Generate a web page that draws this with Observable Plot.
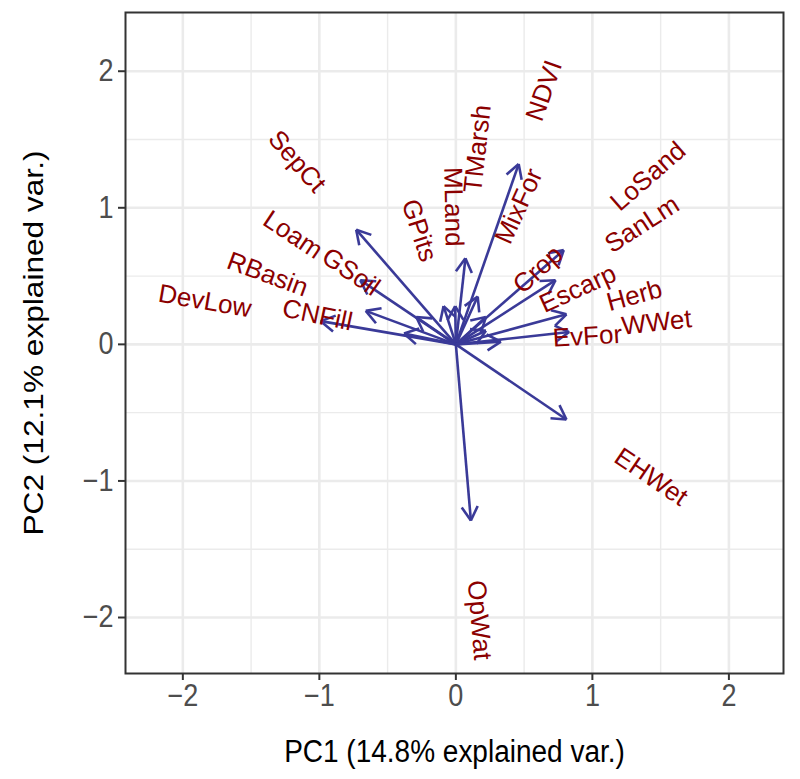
<!DOCTYPE html>
<html><head><meta charset="utf-8">
<script src="https://cdn.jsdelivr.net/npm/d3@7"></script>
<script src="https://cdn.jsdelivr.net/npm/@observablehq/plot@0.6"></script>
<style>body{margin:0;background:#fff}</style>
</head><body><div id="chart"></div>
<script>
// Variable loadings (arrow tips)
const variables = ["SepCt","Loam","GSoil","RBasin","DevLow","CNFill","GPits","MLand","TMarsh","NDVI",
                   "MixFor","LoSand","SanLm","Crop","Escarp","Herb","WWet","EvFor","EHWet","OpWat"];
const pc1 = [-0.73,-0.70,-0.29,-0.66,-0.99,-0.38,-0.09,-0.005,0.07,0.46,
              0.16,0.79,0.73,0.22,0.22,0.81,0.83,0.33,0.81,0.11];
const pc2 = [0.84,0.47,0.20,0.245,0.17,0.08,0.28,0.28,0.63,1.32,
             0.35,0.69,0.47,0.20,0.10,0.22,0.09,0.02,-0.55,-1.29];
const majorTicks = [-2,-1,0,1,2];
const minorTicks = [-1.5,-0.5,0.5,1.5];
const tickLabels = ["\u22122","\u22121","0","1","2"];
const xLabel = "PC1 (14.8% explained var.)";
const yLabel = "PC2 (12.1% explained var.)";

const W = 800, H = 779, mL = 125, mR = 17, mT = 12, mB = 106;
const xDomain = [-2.42, 2.40], yDomain = [-2.41, 2.43];
const kx = (W - mL - mR) / (xDomain[1] - xDomain[0]);
const ky = (H - mT - mB) / (yDomain[1] - yDomain[0]);
const labelSize = 26, headLen = 16, varAdjust = 2.5, tickLen = 7;
const textStretch = 1.13; // axis text in the reference is drawn taller than wide
const font = '"Liberation Sans", Arial, Helvetica, sans-serif';

const ctx = document.createElement("canvas").getContext("2d");
ctx.font = `${labelSize}px ${font}`;

const data = variables.map((name, i) => {
  const x = pc1[i], y = pc2[i];
  const px = x * kx, py = y * ky, r = Math.hypot(px, py);
  const w = ctx.measureText(name).width;
  // ggbiplot: label anchored at tip with hjust = (1 - adjust*sign(x))/2 -> centre along ray
  const s = (r + (varAdjust / 2) * w) / r;
  return {name, x, y, lx: x * s, ly: y * s, angle: -Math.atan(y / x) * 180 / Math.PI, ux: px / r, uy: py / r};
});
// arrowhead wings (open, 30 degrees) expressed in data units
const wings = [];
for (const d of data) {
  for (const a of [Math.PI / 6, -Math.PI / 6]) {
    const c = Math.cos(a), s = Math.sin(a);
    const bx = -(d.ux * c - d.uy * s), by = -(d.ux * s + d.uy * c);
    wings.push({x1: d.x, y1: d.y, x2: d.x + bx * headLen / kx, y2: d.y + by * headLen / ky});
  }
}
const ticks = majorTicks.map((v, i) => ({v, label: tickLabels[i]}));

const plot = Plot.plot({
  width: W, height: H, marginLeft: mL, marginRight: mR, marginTop: mT, marginBottom: mB,
  x: {domain: xDomain, axis: null}, y: {domain: yDomain, axis: null},
  style: {fontFamily: font, background: "#fff", overflow: "visible"},
  marks: [
    Plot.ruleX(minorTicks, {stroke: "#EBEBEB", strokeWidth: 1.4}),
    Plot.ruleY(minorTicks, {stroke: "#EBEBEB", strokeWidth: 1.4}),
    Plot.ruleX(majorTicks, {stroke: "#EBEBEB", strokeWidth: 2.6}),
    Plot.ruleY(majorTicks, {stroke: "#EBEBEB", strokeWidth: 2.6}),
    Plot.link(data, {x1: 0, y1: 0, x2: "x", y2: "y", stroke: "#3A3A98", strokeWidth: 2.6, strokeLinecap: "butt"}),
    Plot.link(wings, {x1: "x1", y1: "y1", x2: "x2", y2: "y2", stroke: "#3A3A98", strokeWidth: 2.6, strokeLinecap: "butt"}),
    Plot.text(data, {x: "lx", y: "ly", text: "name", rotate: "angle", fill: "#8B0000", fontSize: labelSize, textAnchor: "middle", lineAnchor: "middle"}),
    Plot.frame({stroke: "#333333", strokeWidth: 2}),
    // axis ticks
    Plot.ruleX(majorTicks, {y1: yDomain[0], y2: yDomain[0] - tickLen / ky, stroke: "#333333", strokeWidth: 2}),
    Plot.ruleY(majorTicks, {x1: xDomain[0], x2: xDomain[0] - tickLen / kx, stroke: "#333333", strokeWidth: 2}),
    // tick labels
    Plot.text(ticks, {x: "v", y: yDomain[0], text: "label", dy: tickLen + 4, lineAnchor: "top", textAnchor: "middle", fontSize: 27, fill: "#4D4D4D", className: "stretch"}),
    Plot.text(ticks, {y: "v", x: xDomain[0], text: "label", dx: -(tickLen + 5), lineAnchor: "middle", textAnchor: "end", fontSize: 27, fill: "#4D4D4D", className: "stretch"}),
    // axis titles
    Plot.text([xLabel], {frameAnchor: "bottom", dy: 78, fontSize: 28, fill: "#000", textAnchor: "middle", lineAnchor: "middle", className: "stretch"}),
    Plot.text([yLabel], {frameAnchor: "left", rotate: -90, dx: -91, fontSize: 28, fill: "#000", textAnchor: "middle", lineAnchor: "middle", className: "stretch"})
  ]
});
document.getElementById("chart").appendChild(plot);

// stretch axis text vertically about its anchor point
plot.querySelectorAll(".stretch text").forEach(el => {
  const t = el.transform.baseVal.consolidate();
  if (t) {
    const m = t.matrix;
    el.setAttribute("transform", `matrix(${m.a},${m.b * textStretch},${m.c},${m.d * textStretch},${m.e},${m.f})`);
  } else {
    const y = +(el.getAttribute("y") || 0);
    el.setAttribute("transform", `translate(0,${y}) scale(1,${textStretch}) translate(0,${-y})`);
  }
});
</script>
</body></html>
